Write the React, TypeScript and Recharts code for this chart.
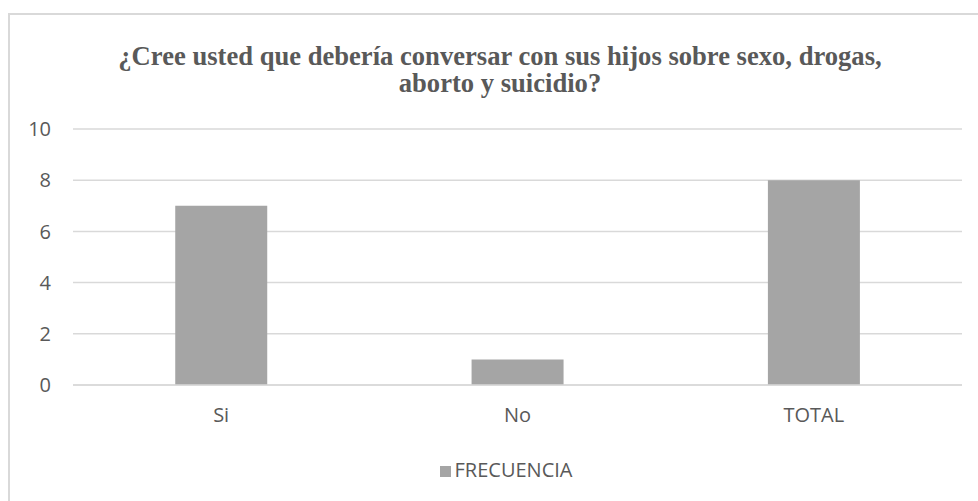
import { Bar, BarChart, CartesianGrid, Legend, XAxis, YAxis } from "recharts";

const categories = ["Si", "No", "TOTAL"];
const frecuencia = [7, 1, 8];
const yTicks = [0, 2, 4, 6, 8, 10];

const data = categories.map((name, i) => ({ name, FRECUENCIA: frecuencia[i] }));

const TEXT = "#595959";
const GRID = "#d9d9d9";
const BAR = "#a5a5a5";
const SANS = "'Open Sans', 'Liberation Sans', sans-serif";

export default function App() {
  return (
    <div
      style={{
        position: "absolute",
        left: 0,
        top: 0,
        width: 978,
        height: 501,
        overflow: "hidden",
        background: "#fff",
      }}
    >
      <div
        style={{
          position: "absolute",
          left: 8,
          top: 13,
          width: 1000,
          height: 520,
          border: `2px solid ${GRID}`,
          boxSizing: "border-box",
        }}
      />
      <div
        style={{
          position: "absolute",
          left: 0,
          top: 43,
          width: 1000,
          textAlign: "center",
          fontFamily: "'Liberation Serif', 'Times New Roman', serif",
          fontWeight: "bold",
          fontSize: 26.6,
          lineHeight: "27px",
          color: TEXT,
        }}
      >
        ¿Cree usted que debería conversar con sus hijos sobre sexo, drogas,
        <br />
        aborto y suicidio?
      </div>
      <BarChart
        width={978}
        height={501}
        data={data}
        margin={{ top: 129, right: 16, left: 0, bottom: 59 }}
        barCategoryGap="34.5%"
        style={{ position: "absolute", left: 0, top: 0 }}
      >
        <CartesianGrid vertical={false} stroke={GRID} strokeWidth={1.5} />
        <XAxis
          dataKey="name"
          axisLine={{ stroke: GRID, strokeWidth: 1.5 }}
          tickLine={false}
          tickMargin={17}
          tick={{ fill: TEXT, fontSize: 20, fontFamily: SANS }}
        />
        <YAxis
          width={73}
          domain={[0, 10]}
          ticks={yTicks}
          axisLine={false}
          tickLine={false}
          tickMargin={16}
          tick={{ fill: TEXT, fontSize: 20, fontFamily: SANS }}
        />
        <Legend
          iconType="square"
          iconSize={11}
          wrapperStyle={{
            fontFamily: SANS,
            fontSize: 20,
            color: TEXT,
            left: 35,
            width: 952,
            top: 456,
          }}
          formatter={(value) => <span style={{ color: TEXT }}>{value}</span>}
        />
        <Bar dataKey="FRECUENCIA" fill={BAR} isAnimationActive={false} />
      </BarChart>
    </div>
  );
}
